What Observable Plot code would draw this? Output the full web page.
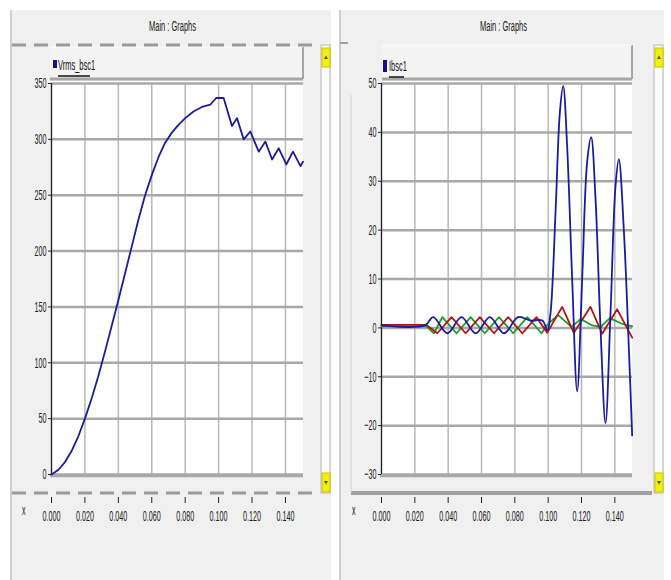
<!DOCTYPE html>
<html>
<head>
<meta charset="utf-8">
<script src="https://cdn.jsdelivr.net/npm/d3@7"></script>
<script src="https://cdn.jsdelivr.net/npm/@observablehq/plot@0.6"></script>
<style>
  html, body { margin: 0; padding: 0; background: #ffffff; }
  #wrap { position: relative; width: 671px; height: 580px; overflow: hidden; font-family: "Liberation Sans", Arial, sans-serif; }
  #wrap > svg { position: absolute; top: 0; }
</style>
</head>
<body>
<div id="wrap"></div>
<script>
// ---- data ----
const titleText = "Main : Graphs";
const leftLegend = "Vrms_bsc1";
const rightLegend = "Ibsc1";
const xTicks = [0, 0.02, 0.04, 0.06, 0.08, 0.10, 0.12, 0.14];
const leftYTicks = [0, 50, 100, 150, 200, 250, 300, 350];
const rightYTicks = [-30, -20, -10, 0, 10, 20, 30, 40, 50];

const vrmsT = [0, 0.004, 0.008, 0.012, 0.016, 0.020, 0.024, 0.028, 0.032, 0.036, 0.040, 0.044, 0.048, 0.052, 0.056, 0.060, 0.064, 0.068, 0.072, 0.076, 0.080, 0.085, 0.090, 0.095, 0.0985, 0.1030, 0.108, 0.111, 0.115, 0.119, 0.124, 0.128, 0.132, 0.136, 0.1405, 0.1445, 0.149, 0.1505];
const vrmsV = [0, 4, 11, 21, 34, 50, 68, 88, 110, 133, 156, 180, 204, 228, 250, 268, 284, 297, 306, 313, 319, 325, 329, 331, 337, 337, 312, 319, 300, 307, 289, 298, 282, 292, 277.5, 289, 276, 280];

const blueT = [0, 0.026, 0.031, 0.0395, 0.048, 0.0565, 0.065, 0.0735, 0.082, 0.0895, 0.0965, 0.0995, 0.1014, 0.1044, 0.107, 0.109, 0.1114, 0.1144, 0.1174, 0.1204, 0.1234, 0.1258, 0.1284, 0.1314, 0.1344, 0.1374, 0.1404, 0.1424, 0.1454, 0.1484, 0.1504];
const blueV = [0.5, 0.5, 2.2, -1.1, 2.2, -1.1, 2.2, -1.1, 2.2, 1.5, 1.5, -0.5, 3, 23.5, 44, 49.5, 37, 10, -13, 10, 34, 39, 26.5, 0, -19.5, 3, 29, 34.5, 20, -4, -22];

const greenT = [0, 0.027, 0.0315, 0.0365, 0.045, 0.0535, 0.062, 0.0705, 0.079, 0.0875, 0.096, 0.1005, 0.106, 0.114, 0.1195, 0.1265, 0.1315, 0.137, 0.1445, 0.1504];
const greenV = [0.3, 0.3, -1.1, 2.2, -1.1, 2.2, -1.1, 2.2, -1.1, 2.2, -1.1, 1.0, 2.6, 0.2, 1.8, 0.5, 0.2, 2.0, 0.8, 0.3];

const redT = [0, 0.027, 0.0335, 0.042, 0.0505, 0.059, 0.0675, 0.076, 0.0845, 0.093, 0.0994, 0.1084, 0.1154, 0.1254, 0.1324, 0.1414, 0.1504];
const redV = [0.6, 0.6, -1.1, 2.2, -1.1, 2.2, -1.1, 2.2, -1.1, 2.2, -1.0, 4.3, -1.0, 4.3, -1.2, 3.8, -2];

// ---- helpers ----
const wrap = document.getElementById("wrap");
const fmtX = d3.format(".3f");
const zip = (T, V, s) => T.map((t, i) => ({t, v: V[i], s}));

function squash(svg, s) {
  svg.querySelectorAll("text").forEach(t => {
    const tr = t.getAttribute("transform") || "";
    t.setAttribute("transform", tr + ` scale(${s},1)`);
  });
}

// ---- chrome (window frames) ----
const ns = "http://www.w3.org/2000/svg";
const chrome = d3.create("svg").attr("width", 671).attr("height", 580).attr("xmlns", ns).style("left", "0px");
function panel(x0, x1, cfg) {
  const g = chrome.append("g");
  g.append("rect").attr("x", x0).attr("y", 10).attr("width", x1 - x0).attr("height", 570).attr("fill", "#f0f0f0");
  g.append("line").attr("x1", x0 + 1).attr("x2", x0 + 1).attr("y1", 10).attr("y2", 580).attr("stroke", "#c4c4c4").attr("stroke-width", 1.5);
  g.append("text").attr("transform", `translate(${(x0 + x1) / 2 + 2},31) scale(0.5,1)`).attr("text-anchor", "middle")
    .attr("font-size", 15).attr("fill", "#222").text(titleText);
  // scrollbar
  const sx = x1 - 10;
  g.append("rect").attr("x", sx).attr("y", 45).attr("width", 9).attr("height", 448).attr("fill", "#fbfbfb").attr("stroke", "#b8b8b8");
  [[48, "M"], [473, "W"]].forEach(([yy, k]) => {
    g.append("rect").attr("x", sx + 1).attr("y", yy).attr("width", 8).attr("height", 19).attr("fill", "#f2ee10").attr("stroke", "#c8c400");
    const cx = sx + 5, cy = yy + 9.5;
    const p = k === "M" ? `M${cx - 2},${cy + 1.5}L${cx + 2},${cy + 1.5}L${cx},${cy - 2}Z` : `M${cx - 2},${cy - 1.5}L${cx + 2},${cy - 1.5}L${cx},${cy + 2}Z`;
    g.append("path").attr("d", p).attr("fill", "#555");
  });
  // legend box
  const lb = cfg.legendBox;
  g.append("rect").attr("x", lb[0]).attr("y", lb[1]).attr("width", lb[2] - lb[0]).attr("height", lb[3] - lb[1]).attr("fill", "#f4f4f4");
  g.append("line").attr("x1", lb[0]).attr("x2", lb[2]).attr("y1", lb[3]).attr("y2", lb[3]).attr("stroke", "#a6a6a6").attr("stroke-width", 3);
  g.append("line").attr("x1", lb[2]).attr("x2", lb[2]).attr("y1", lb[1]).attr("y2", lb[3]).attr("stroke", "#a6a6a6").attr("stroke-width", 2);
  g.append("line").attr("x1", lb[0]).attr("x2", lb[2]).attr("y1", lb[1]).attr("y2", lb[1]).attr("stroke", "#fdfdfd").attr("stroke-width", 1);
  g.append("rect").attr("x", cfg.sq[0]).attr("y", cfg.sq[1]).attr("width", 4).attr("height", cfg.sq[2]).attr("fill", "#101090");
  g.append("text").attr("transform", `translate(${cfg.lt[0]},${cfg.lt[1]}) scale(0.5,1)`).attr("font-size", 15).attr("fill", "#111").text(cfg.legend);
  g.append("line").attr("x1", cfg.lt[0]).attr("x2", cfg.lt[0] + cfg.ulw).attr("y1", cfg.lt[1] + 6).attr("y2", cfg.lt[1] + 6).attr("stroke", "#111").attr("stroke-width", 1.5);
  // plot background
  const pb = cfg.plotBox;
  g.append("rect").attr("x", pb[0]).attr("y", pb[1]).attr("width", pb[2] - pb[0]).attr("height", pb[3] - pb[1]).attr("fill", "#ffffff");
  g.append("line").attr("x1", pb[0] - 1).attr("x2", pb[2]).attr("y1", pb[3] + 1).attr("y2", pb[3] + 1).attr("stroke", "#a8a8a8").attr("stroke-width", 2.5);
  // x label
  g.append("text").attr("transform", `translate(${cfg.xl[0]},${cfg.xl[1]}) scale(0.5,1)`).attr("font-size", 14).attr("fill", "#222").text("x");
  return g;
}
const gl = panel(10, 331, {
  legendBox: [50, 47, 303, 79], sq: [53, 60, 8], lt: [58, 70], ulw: 32, legend: leftLegend,
  plotBox: [51, 81, 303, 475], xl: [22, 515]
});
gl.append("line").attr("x1", 12).attr("x2", 320).attr("y1", 45).attr("y2", 45).attr("stroke", "#9a9a9a").attr("stroke-width", 3).attr("stroke-dasharray", "14 8");
gl.append("line").attr("x1", 12).attr("x2", 320).attr("y1", 493).attr("y2", 493).attr("stroke", "#9a9a9a").attr("stroke-width", 3).attr("stroke-dasharray", "14 8");
const gr = panel(339, 664, {
  legendBox: [382, 45, 632, 79], sq: [383, 60, 12], lt: [389, 71], ulw: 15, legend: rightLegend,
  plotBox: [381, 81, 632, 475], xl: [352, 515]
});
gr.append("line").attr("x1", 340).attr("x2", 348).attr("y1", 43).attr("y2", 43).attr("stroke", "#a0a0a0").attr("stroke-width", 2);
gr.append("line").attr("x1", 351).attr("x2", 652).attr("y1", 493).attr("y2", 493).attr("stroke", "#a0a0a0").attr("stroke-width", 4);
gr.append("line").attr("x1", 351).attr("x2", 351).attr("y1", 95).attr("y2", 493).attr("stroke", "#d0d0d0").attr("stroke-width", 1);
wrap.appendChild(chrome.node());

// ---- plots ----
const axisFont = "Liberation Sans, Arial, sans-serif";
function makePlot({left, width, mL, mR, yDomain, xMax, yTicks, series}) {
  const plot = Plot.plot({
    width, height: 540,
    marginLeft: mL, marginRight: mR, marginTop: 83, marginBottom: 66,
    style: {background: "transparent", fontFamily: axisFont, color: "#222"},
    x: {domain: [0, xMax], label: null},
    y: {domain: yDomain, label: null},
    marks: [
      Plot.gridX(xTicks, {stroke: "#b8b8b8", strokeOpacity: 1, strokeWidth: 1.5}),
      Plot.gridY(yTicks, {stroke: "#a8a8a8", strokeOpacity: 1, strokeWidth: 2.5}),
      Plot.ruleX([0], {stroke: "#222", strokeWidth: 1.2}),
      Plot.axisY(yTicks, {tickSize: 3, tickPadding: 2, fontSize: 15, stroke: "#222", label: null}),
      Plot.axisX(xTicks, {tickSize: 6, tickPadding: 7, dy: 23, fontSize: 15, tickFormat: fmtX, stroke: "#222", label: null}),
      ...series.map(s => Plot.line(s.data, {x: "t", y: "v", stroke: s.color, strokeWidth: 1.8, curve: s.curve || "linear"}))
    ]
  });
  plot.style.left = left + "px";
  squash(plot, 0.48);
  wrap.appendChild(plot);
}

makePlot({
  left: 0, width: 335, mL: 51, mR: 32, yDomain: [0, 350], xMax: 0.1508, yTicks: leftYTicks,
  series: [{data: zip(vrmsT, vrmsV), color: "#1c1c96"}]
});
makePlot({
  left: 335, width: 336, mL: 46, mR: 39, yDomain: [-30, 50], xMax: 0.1506, yTicks: rightYTicks,
  series: [
    {data: zip(greenT, greenV), color: "#1e9a2a"},
    {data: zip(redT, redV), color: "#b01414"},
    {data: zip(blueT, blueV), color: "#1c1c9a", curve: "catmull-rom"}
  ]
});
</script>
</body>
</html>
